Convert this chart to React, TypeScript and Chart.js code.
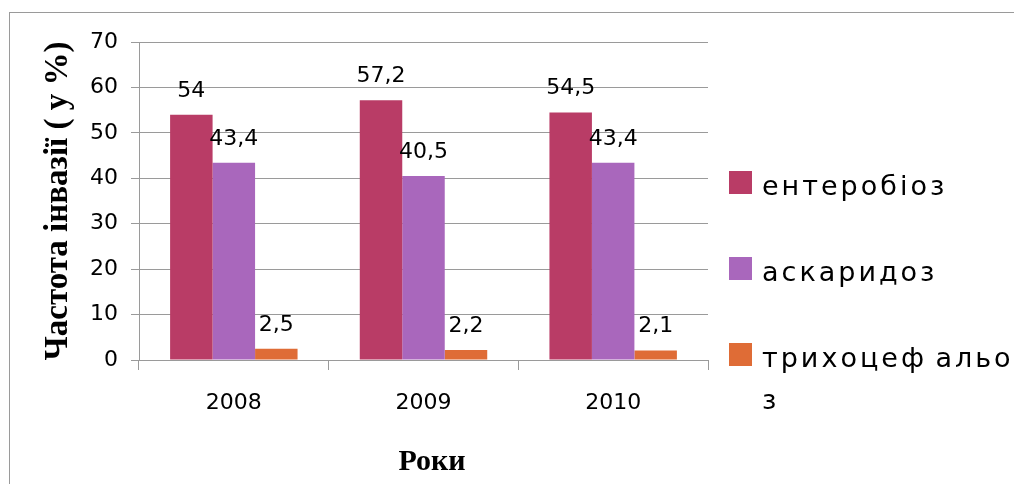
import React, { useEffect, useRef } from "react";
import { Chart, registerables } from "chart.js";

Chart.register(...registerables);

const categories = ["2008", "2009", "2010"];
const seriesNames = ["ентеробіоз", "аскаридоз", "трихоцеф альо з"];
const legendLines = [["ентеробіоз"], ["аскаридоз"], ["трихоцеф\u2009альо", "з"]];
const enterobiosis = [54, 57.2, 54.5];
const ascaridosis = [43.4, 40.5, 43.4];
const trichocephalosis = [2.5, 2.2, 2.1];
const seriesColors = ["#B93C66", "#A967BC", "#DF6C36"];
const yTicks = [0, 10, 20, 30, 40, 50, 60, 70];
const yTitle = "Частота інвазії ( у %)";
const xTitle = "Роки";

const fmt = (v: number) => String(v).replace(".", ",");

const decorPlugin = {
  id: "decor",
  beforeDraw(chart: any) {
    const ctx = chart.ctx;
    ctx.save();
    ctx.fillStyle = "#9a9a9a";
    ctx.fillRect(9, 12, 1, 472);
    ctx.fillRect(9, 12, 1005, 1);
    ctx.restore();
  },
  afterDraw(chart: any) {
    const ctx = chart.ctx;
    const area = chart.chartArea;
    ctx.save();
    ctx.fillStyle = "#000";
    ctx.font = "22px 'DejaVu Sans'";
    ctx.textAlign = "center";
    ctx.textBaseline = "alphabetic";
    chart.data.datasets.forEach((ds: any, i: number) => {
      const meta = chart.getDatasetMeta(i);
      meta.data.forEach((bar: any, j: number) => {
        ctx.fillText(fmt(ds.data[j]), bar.x, bar.y - 18);
      });
    });
    ctx.textBaseline = "middle";
    ctx.font = "bold 33px 'Liberation Serif'";
    ctx.save();
    ctx.translate(58, (area.top + area.bottom) / 2);
    ctx.rotate(-Math.PI / 2);
    ctx.fillText(yTitle, 0, 0);
    ctx.restore();
    ctx.font = "bold 30px 'Liberation Serif'";
    ctx.fillText(xTitle, 432, 462);
    ctx.textAlign = "left";
    ctx.textBaseline = "alphabetic";
    ctx.font = "27px 'DejaVu Sans'";
    (ctx as any).letterSpacing = "3px";
    const x0 = 729;
    const sw = 23;
    legendLines.forEach((lines, i) => {
      const top = 171 + i * 86;
      ctx.fillStyle = seriesColors[i];
      ctx.fillRect(x0, top, sw, sw);
      ctx.fillStyle = "#000";
      lines.forEach((ln, k) => {
        ctx.fillText(ln, 762, top + 24 + k * 42);
      });
    });
    ctx.restore();
  },
};

export default function App() {
  const ref = useRef<HTMLCanvasElement>(null);
  useEffect(() => {
    if (!ref.current) return;
    const seriesData = [enterobiosis, ascaridosis, trichocephalosis];
    const chart = new Chart(ref.current, {
      type: "bar",
      data: {
        labels: categories,
        datasets: seriesNames.map((n, i) => ({
          label: n,
          data: seriesData[i],
          backgroundColor: seriesColors[i],
          borderWidth: 0,
          categoryPercentage: 0.672,
          barPercentage: 1,
        })),
      },
      options: {
        responsive: false,
        animation: false,
        layout: { padding: { left: 0, top: 42, right: 306, bottom: 0 } },
        plugins: { legend: { display: false }, tooltip: { enabled: false } },
        scales: {
          x: {
            grid: {
              drawOnChartArea: false,
              offset: true,
              tickLength: 10,
              color: "#9a9a9a",
            },
            border: { color: "#9a9a9a" },
            ticks: {
              color: "#000",
              font: { family: "'DejaVu Sans'", size: 22 },
              padding: 20,
            },
            afterFit: (s: any) => {
              s.height = 124;
            },
          },
          y: {
            min: 0,
            max: 70,
            afterBuildTicks: (s: any) => {
              s.ticks = yTicks.map((v) => ({ value: v }));
            },
            grid: { color: "#9a9a9a", tickLength: 8 },
            border: { color: "#9a9a9a" },
            ticks: {
              color: "#000",
              font: { family: "'DejaVu Sans'", size: 22 },
              padding: 13,
            },
            afterFit: (s: any) => {
              s.width = 139;
            },
          },
        },
      },
      plugins: [decorPlugin],
    });
    return () => chart.destroy();
  }, []);
  return (
    <div style={{ position: "absolute", left: 0, top: 0, width: 1014, height: 484, background: "#fff" }}>
      <canvas ref={ref} width={1014} height={484} style={{ width: 1014, height: 484, display: "block" }} />
    </div>
  );
}
